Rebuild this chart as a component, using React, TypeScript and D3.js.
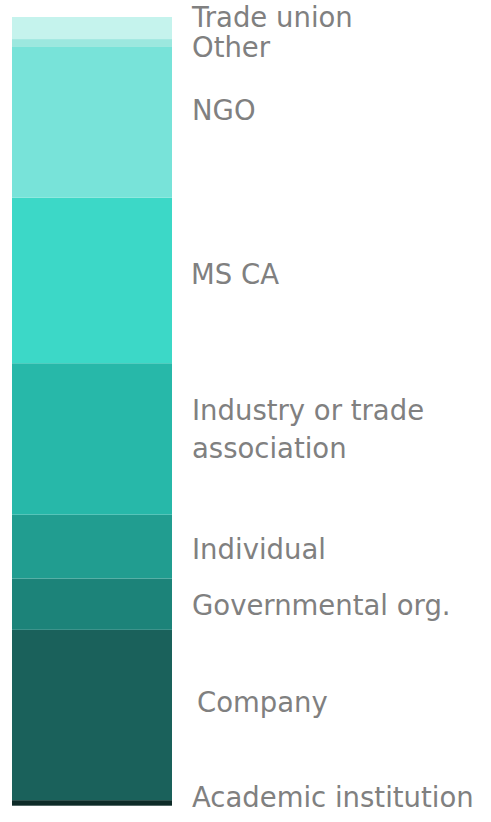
import React from "react";
import * as d3 from "d3";

// Data (bottom to top), in percent of respondents
const categories = [
  "Academic institution",
  "Company",
  "Governmental org.",
  "Individual",
  "Industry or trade association",
  "MS CA",
  "NGO",
  "Other",
  "Trade union",
];
const values = [0.7, 21.6, 6.5, 8.1, 19.2, 21.0, 19.1, 1.0, 2.8];
const labelLines = [
  ["Academic institution"],
  ["Company"],
  ["Governmental org."],
  ["Individual"],
  ["Industry or trade", "association"],
  ["MS CA"],
  ["NGO"],
  ["Other"],
  ["Trade union"],
];
const colors = [
  "#0e2b28",
  "#1a615b",
  "#1c8379",
  "#219d90",
  "#27b8a9",
  "#3cd8c7",
  "#78e3d9",
  "#9ce8df",
  "#c5f3ed",
];
// layout nudges for labels (px), relative to segment centre
const labelNudgeY = [-6, -12.5, 1, 2, -10, -6.5, -12, 4, -10.5];
const labelNudgeX = [0, 5, 0, 0, 0, -1, 0, 0, 0];

const W = 491;
const H = 822;
const barX0 = 12;
const barX1 = 172;
const barTop = 17;
const barBottom = 805.7;
const labelX = 192;
const fontSize = 27.5;
const lineGap = 38;

export default function App() {
  const total = d3.sum(values);
  const y = d3.scaleLinear().domain([0, total]).range([barBottom, barTop]);
  const cum = d3.cumsum(values);
  const segs = values.map((v, i) => {
    const start = i === 0 ? 0 : cum[i - 1];
    const end = cum[i];
    return { i, start, end };
  });

  return (
    <svg
      width={W}
      height={H}
      style={{ position: "absolute", left: 0, top: 0, background: "#fff" }}
    >
      {segs.map((s) => (
        <rect
          key={categories[s.i]}
          x={barX0}
          width={barX1 - barX0}
          y={y(s.end)}
          height={y(s.start) - y(s.end)}
          fill={colors[s.i]}
        />
      ))}
      {segs.map((s) => {
        const lines = labelLines[s.i];
        const cy = (y(s.start) + y(s.end)) / 2 + labelNudgeY[s.i];
        const firstCenter = cy - ((lines.length - 1) * lineGap) / 2;
        return (
          <text
            key={"l" + s.i}
            x={labelX + labelNudgeX[s.i]}
            fontFamily="DejaVu Sans, Verdana, sans-serif"
            fontSize={fontSize}
            fill="#808080"
          >
            {lines.map((ln, k) => (
              <tspan
                key={k}
                x={labelX + labelNudgeX[s.i]}
                y={firstCenter + k * lineGap + fontSize * 0.36}
              >
                {ln}
              </tspan>
            ))}
          </text>
        );
      })}
    </svg>
  );
}
